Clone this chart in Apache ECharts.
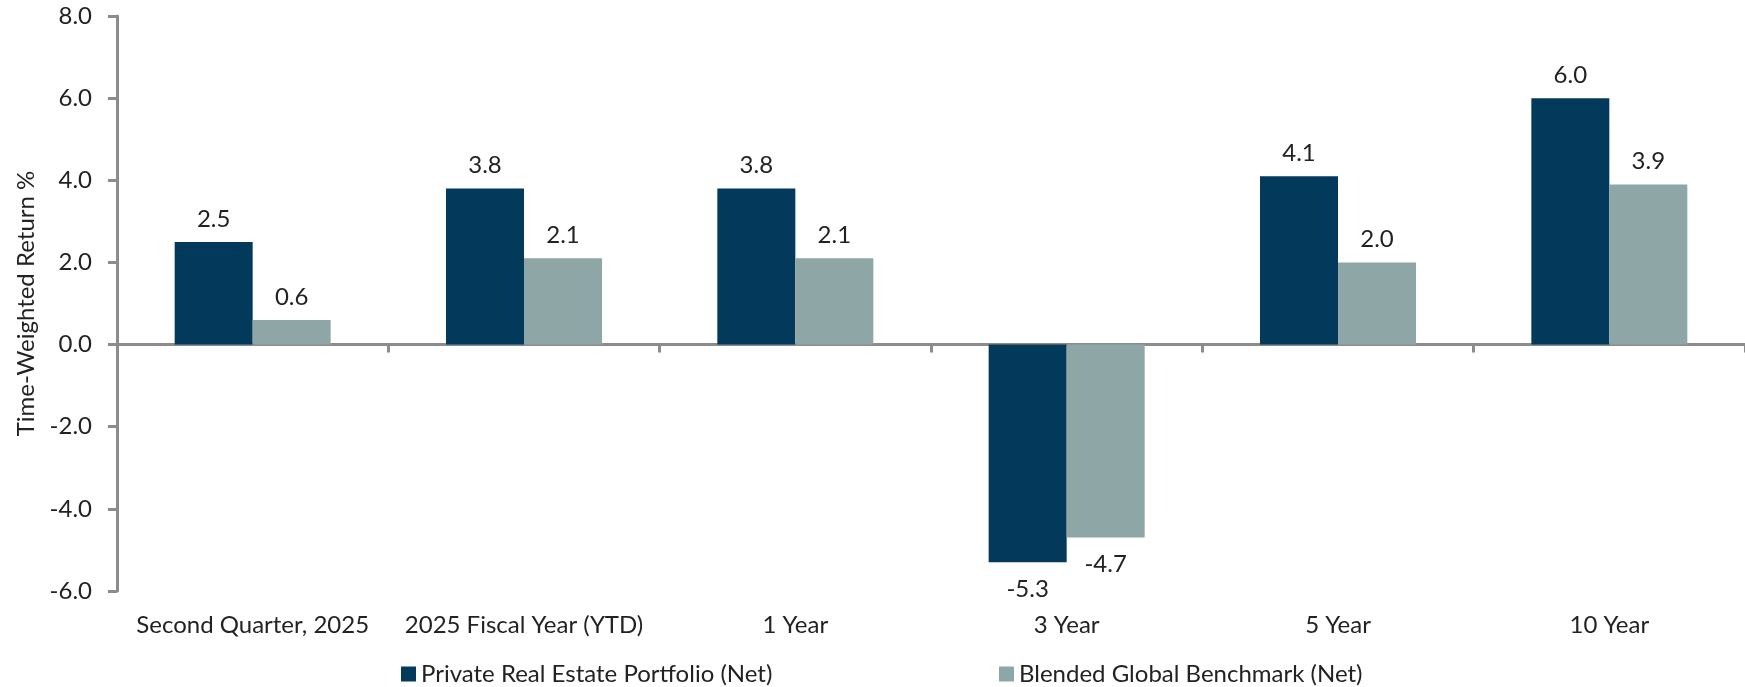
<!DOCTYPE html>
<html>
<head>
<meta charset="utf-8">
<script src="https://cdn.jsdelivr.net/npm/echarts@6/dist/echarts.min.js"></script>
<style>
html,body{margin:0;padding:0;background:#fff;}
#c{width:1745px;height:687px;}
</style>
</head>
<body>
<div id="c"></div>
<script>
const categories = ["Second Quarter, 2025", "2025 Fiscal Year (YTD)", "1 Year", "3 Year", "5 Year", "10 Year"];
const seriesNames = ["Private Real Estate Portfolio (Net)", "Blended Global Benchmark (Net)"];
const portfolio = [2.5, 3.8, 3.8, -5.3, 4.1, 6.0];
const benchmark = [0.6, 2.1, 2.1, -4.7, 2.0, 3.9];
const yTicks = { min: -6, max: 8, interval: 2 };
const colors = ["#03395B", "#8FA6A6"];

const FONT = "Lato, 'Open Sans', sans-serif";
const FS = 24;
const TXT = "#222222";
const AX = "#8C8C8C";

function toData(arr) {
  return arr.map(v => ({ value: v, label: { position: v < 0 ? 'bottom' : 'top', distance: v < 0 ? 14 : 10 } }));
}

const chart = echarts.init(document.getElementById('c'));
const legendText = { fontFamily: FONT, fontSize: FS, color: TXT, lineHeight: 28 };
chart.setOption({
  animation: false,
  textStyle: { fontFamily: FONT },
  grid: { left: 117, top: 16, width: 1640, height: 575, containLabel: false },
  legend: [
    { data: [seriesNames[0]], left: 401, top: 660, padding: 0, icon: 'rect', itemWidth: 15, itemHeight: 15, textStyle: legendText },
    { data: [seriesNames[1]], left: 999, top: 660, padding: 0, icon: 'rect', itemWidth: 15, itemHeight: 15, textStyle: legendText }
  ],
  xAxis: [
    {
      type: 'category', data: categories, position: 'bottom',
      axisLine: { show: true, onZero: true, lineStyle: { color: AX, width: 3 } },
      axisTick: { show: true, length: 8, lineStyle: { color: AX, width: 3 } },
      axisLabel: { show: false }
    },
    {
      type: 'category', data: categories, position: 'bottom',
      axisLine: { show: false, onZero: false },
      axisTick: { show: false },
      axisLabel: { show: true, interval: 0, margin: 21, fontFamily: FONT, fontSize: FS, color: TXT, lineHeight: 26 }
    }
  ],
  yAxis: {
    type: 'value', min: yTicks.min, max: yTicks.max, interval: yTicks.interval,
    name: 'Time-Weighted Return %', nameLocation: 'middle', nameGap: 72, nameRotate: 90,
    nameTextStyle: { fontFamily: FONT, fontSize: FS, color: TXT },
    splitLine: { show: false },
    axisLine: { show: true, lineStyle: { color: AX, width: 3 } },
    axisTick: { show: true, length: 9, lineStyle: { color: AX, width: 3 } },
    axisLabel: { margin: 25, fontFamily: FONT, fontSize: FS, color: TXT, formatter: v => v.toFixed(1) }
  },
  series: [
    {
      name: seriesNames[0], type: 'bar', xAxisIndex: 0, data: toData(portfolio),
      barWidth: 78, barGap: '0%', itemStyle: { color: colors[0] },
      label: { show: true, fontFamily: FONT, fontSize: FS, color: TXT, lineHeight: 26, formatter: p => p.value.toFixed(1) }
    },
    {
      name: seriesNames[1], type: 'bar', xAxisIndex: 0, data: toData(benchmark),
      barWidth: 78, barGap: '0%', itemStyle: { color: colors[1] },
      label: { show: true, fontFamily: FONT, fontSize: FS, color: TXT, lineHeight: 26, formatter: p => p.value.toFixed(1) }
    }
  ]
});
</script>
</body>
</html>
